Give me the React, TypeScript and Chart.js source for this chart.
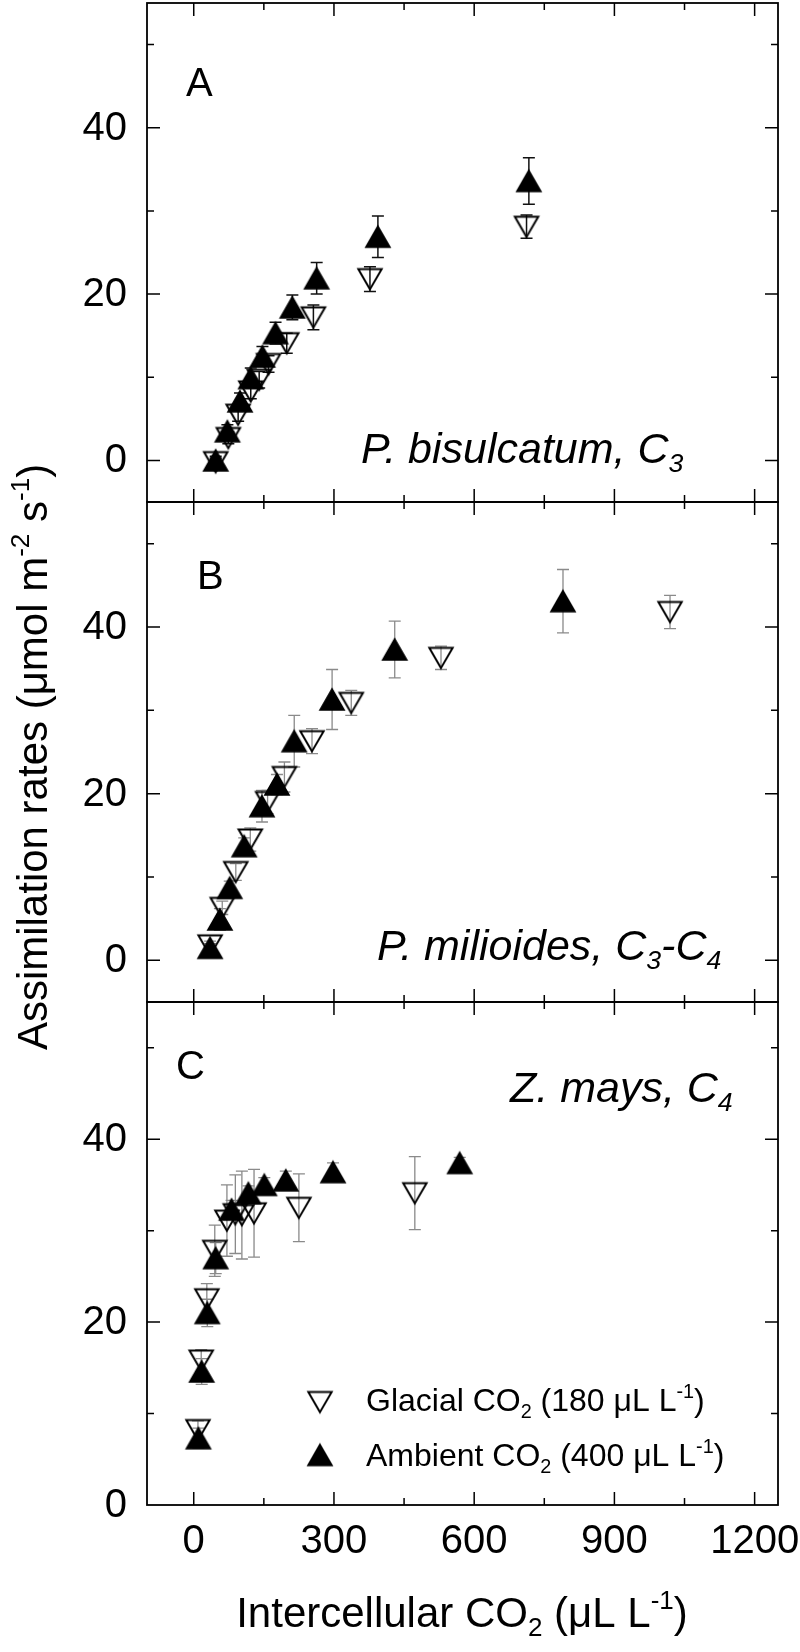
import React, { useEffect, useRef } from 'react';
import { Chart, registerables } from 'chart.js';

Chart.register(...registerables);

const FONT = '"Liberation Sans", Arial, Helvetica, sans-serif';

// ---- Panel A: P. bisulcatum (C3) ----
const aAmbientCi = [47, 72, 99, 122, 147, 175, 211, 263, 394, 717];
const aAmbientA = [0.0, 3.5, 7.1, 9.9, 12.5, 15.3, 18.4, 21.9, 26.9, 33.6];
const aAmbientSE = [0.5, 0.8, 1.0, 1.2, 1.2, 1.3, 1.5, 1.9, 2.5, 2.8];
const aGlacialCi = [47, 74, 95, 122, 140, 160, 199, 256, 377, 712];
const aGlacialA = [-0.2, 2.7, 5.5, 8.3, 9.7, 11.6, 14.1, 17.2, 21.8, 28.1];
const aGlacialSE = [0.5, 0.7, 0.8, 0.9, 1.0, 1.0, 1.2, 1.5, 1.5, 1.4];

// ---- Panel B: P. milioides (C3-C4) ----
const bAmbientCi = [35, 56, 77, 108, 146, 178, 215, 296, 430, 790];
const bAmbientA = [1.5, 4.9, 8.7, 13.7, 18.5, 21.1, 26.3, 31.3, 37.3, 43.1];
const bAmbientSE = [0.5, 1.3, 0.8, 1.0, 1.9, 1.2, 3.1, 3.6, 3.4, 3.8];
const bGlacialCi = [35, 61, 90, 121, 158, 194, 253, 337, 529, 1019];
const bGlacialA = [1.8, 6.3, 10.6, 14.5, 19.0, 22.0, 26.3, 30.9, 36.3, 41.8];
const bGlacialSE = [0.5, 0.8, 1.0, 1.4, 1.4, 1.8, 1.5, 1.5, 1.4, 2.0];

// ---- Panel C: Z. mays (C4) ----
const cAmbientCi = [10, 17, 29, 47, 81, 117, 151, 197, 298, 569];
const cAmbientA = [7.3, 14.6, 21.0, 27.0, 32.3, 34.1, 35.0, 35.5, 36.4, 37.4];
const cAmbientSE = [1.1, 1.4, 1.5, 1.7, 1.0, 0.8, 0.8, 1.0, 1.0, 0.6];
const cGlacialCi = [9, 16, 28, 45, 71, 89, 103, 129, 225, 473];
const cGlacialA = [8.2, 15.8, 22.5, 27.8, 31.1, 31.8, 31.7, 31.9, 32.5, 34.1];
const cGlacialSE = [1.0, 1.2, 1.7, 2.8, 3.9, 4.3, 4.8, 4.8, 3.7, 4.0];

const xTickValues = [0, 300, 600, 900, 1200];
const yTickValues = [0, 20, 40];
const xMinorStep = 150;
const yMinorStep = 10;

type Part = { t: string; s?: 'sub' | 'sup' };

const legendGlacial: Part[] = [{ t: 'Glacial CO' }, { t: '2', s: 'sub' }, { t: ' (180 \u03bcL L' }, { t: '-1', s: 'sup' }, { t: ')' }];
const legendAmbient: Part[] = [{ t: 'Ambient CO' }, { t: '2', s: 'sub' }, { t: ' (400 \u03bcL L' }, { t: '-1', s: 'sup' }, { t: ')' }];
const xTitle: Part[] = [{ t: 'Intercellular CO' }, { t: '2', s: 'sub' }, { t: ' (\u03bcL L' }, { t: '-1', s: 'sup' }, { t: ')' }];
const yTitle: Part[] = [{ t: 'Assimilation rates (\u03bcmol m' }, { t: '-2', s: 'sup' }, { t: ' s' }, { t: '-1', s: 'sup' }, { t: ')' }];

const panels = [
  { id: 'yA', min: -5, max: 55, weight: 499, letter: 'A', letterX: 186, letterY: 96, errColor: '#111', errWidth: 1.5,
    species: [{ t: 'P. bisulcatum, C' }, { t: '3', s: 'sub' }] as Part[], spX: 361, spY: 463 },
  { id: 'yB', min: -5, max: 55, weight: 500, letter: 'B', letterX: 197, letterY: 589, errColor: '#8a8a8a', errWidth: 1.3,
    species: [{ t: 'P. milioides, C' }, { t: '3', s: 'sub' }, { t: '-C' }, { t: '4', s: 'sub' }] as Part[], spX: 377, spY: 960 },
  { id: 'yC', min: 0, max: 55, weight: 503, letter: 'C', letterX: 176, letterY: 1079, errColor: '#8a8a8a', errWidth: 1.3,
    species: [{ t: 'Z. mays, C' }, { t: '4', s: 'sub' }] as Part[], spX: 510, spY: 1102 },
];

function fontStr(size: number, italic?: boolean) {
  return `${italic ? 'italic ' : ''}${size}px ${FONT}`;
}

function drawRich(ctx: CanvasRenderingContext2D, parts: Part[], x: number, y: number, size: number,
  align: 'left' | 'center' | 'right' = 'left', italic = false) {
  let w = 0;
  for (const p of parts) {
    ctx.font = fontStr(p.s ? size * 0.62 : size, italic);
    w += ctx.measureText(p.t).width;
  }
  let cx = align === 'center' ? x - w / 2 : align === 'right' ? x - w : x;
  ctx.textAlign = 'left';
  ctx.textBaseline = 'alphabetic';
  for (const p of parts) {
    const sz = p.s ? size * 0.62 : size;
    const dy = p.s === 'sub' ? size * 0.22 : p.s === 'sup' ? -size * 0.42 : 0;
    ctx.font = fontStr(sz, italic);
    ctx.fillText(p.t, cx, y + dy);
    cx += ctx.measureText(p.t).width;
  }
}

function makeTriangle(up: boolean, filled: boolean): HTMLCanvasElement {
  const r = 13.5;
  const hw = r * 0.866;
  const hh = r * 0.75;
  const w = Math.ceil(hw * 2) + 8;
  const h = Math.ceil(hh * 2) + 8;
  const c = document.createElement('canvas');
  c.width = w;
  c.height = h;
  const ctx = c.getContext('2d')!;
  const cx = w / 2;
  const cy = h / 2;
  ctx.beginPath();
  if (up) {
    ctx.moveTo(cx, cy - hh);
    ctx.lineTo(cx + hw, cy + hh);
    ctx.lineTo(cx - hw, cy + hh);
  } else {
    ctx.moveTo(cx, cy + hh);
    ctx.lineTo(cx + hw, cy - hh);
    ctx.lineTo(cx - hw, cy - hh);
  }
  ctx.closePath();
  if (filled) {
    ctx.fillStyle = '#000';
    ctx.fill();
  }
  ctx.lineWidth = 2;
  ctx.strokeStyle = '#000';
  ctx.stroke();
  return c;
}

const pts = (xs: number[], ys: number[]) => xs.map((x, i) => ({ x, y: ys[i] }));

export default function App() {
  const ref = useRef<HTMLCanvasElement | null>(null);

  useEffect(() => {
    if (!ref.current) return;
    const upImg = makeTriangle(true, true);
    const downImg = makeTriangle(false, false);

    const series = [
      { y: 'yA', xs: aAmbientCi, ys: aAmbientA, se: aAmbientSE, img: upImg },
      { y: 'yB', xs: bAmbientCi, ys: bAmbientA, se: bAmbientSE, img: upImg },
      { y: 'yC', xs: cAmbientCi, ys: cAmbientA, se: cAmbientSE, img: upImg },
      { y: 'yA', xs: aGlacialCi, ys: aGlacialA, se: aGlacialSE, img: downImg },
      { y: 'yB', xs: bGlacialCi, ys: bGlacialA, se: bGlacialSE, img: downImg },
      { y: 'yC', xs: cGlacialCi, ys: cGlacialA, se: cGlacialSE, img: downImg },
    ];

    const datasets = series.map((s) => ({
      data: pts(s.xs, s.ys),
      xAxisID: 'x',
      yAxisID: s.y,
      pointStyle: s.img,
      pointRadius: 1,
      pointBorderWidth: 0,
      pointHoverRadius: 1,
      showLine: false,
      clip: false,
      errors: s.se,
    }));

    const errorBars = {
      id: 'errorBars',
      beforeDatasetsDraw(chart: any) {
        const ctx = chart.ctx as CanvasRenderingContext2D;
        ctx.save();
        chart.data.datasets.forEach((ds: any) => {
          const xs = chart.scales.x;
          const ys = chart.scales[ds.yAxisID];
          const panel = panels.find((p) => p.id === ds.yAxisID)!;
          ctx.strokeStyle = panel.errColor;
          ctx.lineWidth = panel.errWidth;
          ds.data.forEach((pt: any, i: number) => {
            const e = ds.errors[i];
            const px = xs.getPixelForValue(pt.x);
            const top = ys.getPixelForValue(pt.y + e);
            const bot = ys.getPixelForValue(pt.y - e);
            ctx.beginPath();
            ctx.moveTo(px, top);
            ctx.lineTo(px, bot);
            ctx.moveTo(px - 6, top);
            ctx.lineTo(px + 6, top);
            ctx.moveTo(px - 6, bot);
            ctx.lineTo(px + 6, bot);
            ctx.stroke();
          });
        });
        ctx.restore();
      },
    };

    const frames = {
      id: 'frames',
      afterDatasetsDraw(chart: any) {
        const ctx = chart.ctx as CanvasRenderingContext2D;
        const xs = chart.scales.x;
        const L = chart.chartArea.left;
        const R = chart.chartArea.right;
        ctx.save();
        ctx.strokeStyle = '#000';
        for (const p of panels) {
          const ys = chart.scales[p.id];
          const T = ys.top;
          const B = ys.bottom;
          ctx.lineWidth = 1.8;
          ctx.strokeRect(L, T, R - L, B - T);
          ctx.lineWidth = 1.5;
          ctx.beginPath();
          for (let v = 0; v <= 1200; v += xMinorStep) {
            const len = v % 300 === 0 ? 13 : 7;
            const px = xs.getPixelForValue(v);
            ctx.moveTo(px, T);
            ctx.lineTo(px, T + len);
            ctx.moveTo(px, B);
            ctx.lineTo(px, B - len);
          }
          for (let v = Math.ceil(p.min / yMinorStep) * yMinorStep; v < p.max; v += yMinorStep) {
            if (v <= p.min) continue;
            const len = v % 20 === 0 ? 13 : 7;
            const py = ys.getPixelForValue(v);
            ctx.moveTo(L, py);
            ctx.lineTo(L + len, py);
            ctx.moveTo(R, py);
            ctx.lineTo(R - len, py);
          }
          ctx.stroke();
        }
        ctx.restore();
      },
      afterDraw(chart: any) {
        const ctx = chart.ctx as CanvasRenderingContext2D;
        const xs = chart.scales.x;
        ctx.save();
        ctx.fillStyle = '#000';
        for (const p of panels) {
          const ys = chart.scales[p.id];
          ctx.font = fontStr(40);
          ctx.textAlign = 'right';
          ctx.textBaseline = 'middle';
          for (const v of yTickValues) ctx.fillText(String(v), 127, ys.getPixelForValue(v) + 1);
          ctx.textAlign = 'left';
          ctx.textBaseline = 'alphabetic';
          ctx.font = fontStr(40);
          ctx.fillText(p.letter, p.letterX, p.letterY);
          drawRich(ctx, p.species, p.spX, p.spY, 43, 'left', true);
        }
        ctx.font = fontStr(40);
        ctx.textAlign = 'center';
        ctx.textBaseline = 'alphabetic';
        for (const v of xTickValues) ctx.fillText(String(v), xs.getPixelForValue(v), 1553);

        // legend
        ctx.drawImage(downImg, 320 - downImg.width / 2, 1402 - downImg.height / 2);
        ctx.drawImage(upImg, 320 - upImg.width / 2, 1455 - upImg.height / 2);
        drawRich(ctx, legendGlacial, 366, 1411, 32);
        drawRich(ctx, legendAmbient, 366, 1466, 32);

        // axis titles
        drawRich(ctx, xTitle, 462, 1627, 42, 'center');
        ctx.save();
        ctx.translate(47, 757);
        ctx.rotate(-Math.PI / 2);
        drawRich(ctx, yTitle, 0, 0, 42, 'center');
        ctx.restore();
        ctx.restore();
      },
    };

    const yScale = (p: typeof panels[number]) => ({
      type: 'linear' as const,
      position: 'left' as const,
      stack: 'panels',
      stackWeight: p.weight,
      min: p.min,
      max: p.max,
      display: false,
    });

    const chart = new Chart(ref.current, {
      type: 'scatter',
      data: { datasets: datasets as any },
      options: {
        responsive: false,
        animation: false,
        devicePixelRatio: 1,
        events: [],
        layout: { autoPadding: false, padding: { left: 147, right: 22, top: 3, bottom: 147 } },
        scales: {
          x: { type: 'linear', position: 'bottom', min: -100, max: 1250, display: false },
          yC: yScale(panels[2]),
          yB: yScale(panels[1]),
          yA: yScale(panels[0]),
        } as any,
        plugins: { legend: { display: false }, tooltip: { enabled: false } },
      },
      plugins: [errorBars, frames],
    });
    return () => chart.destroy();
  }, []);

  return (
    <div style={{ position: 'absolute', left: 0, top: 0, width: 800, height: 1652, background: '#fff' }}>
      <canvas ref={ref} width={800} height={1652} style={{ display: 'block' }} />
    </div>
  );
}
